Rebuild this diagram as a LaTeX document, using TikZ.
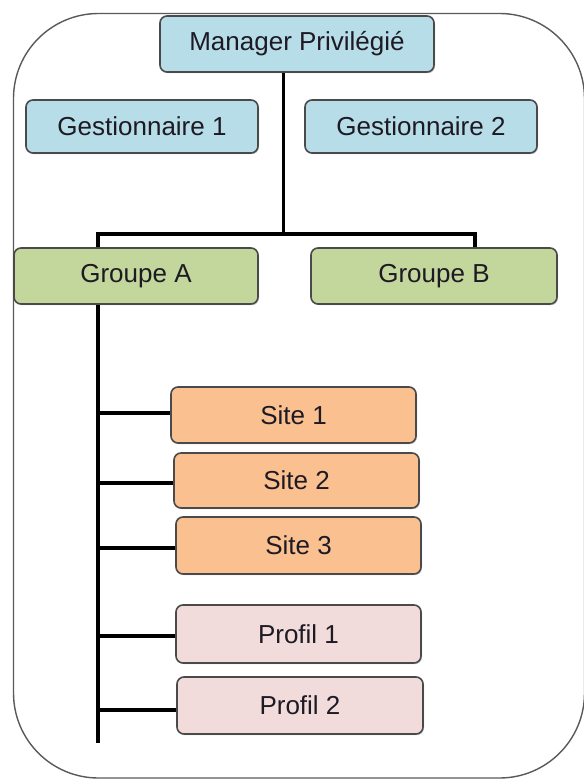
\documentclass[tikz,border=0pt]{standalone}
\usepackage{fontspec}
\setmainfont{Liberation Sans}
\usetikzlibrary{shadows}
\definecolor{cblue}{HTML}{B7DDE8}
\definecolor{cgreen}{HTML}{C3D69B}
\definecolor{corange}{HTML}{FAC090}
\definecolor{cpink}{HTML}{F2DCDB}
\definecolor{cborder}{HTML}{4A4A4A}
\definecolor{ctext}{HTML}{1E1A24}
\begin{document}
\begin{tikzpicture}[x=1pt,y=-1pt,
  box/.style={draw=cborder, line width=1.6pt, rounded corners=7pt, inner sep=0pt,
    text=ctext, font=\fontsize{26}{30}\selectfont,
    drop shadow={shadow xshift=1pt, shadow yshift=-1.2pt, opacity=0.35, fill=black!60}},
  bw/.style 2 args={box, minimum width=#1pt, minimum height=#2pt},
  conn/.style={line width=3.2pt, black},
  frame/.style={draw=black!65, line width=1.4pt, rounded corners=85pt}]
\useasboundingbox (0,0) rectangle (584,780);
\draw[frame] (13.5,13.5) rectangle (584.5,778);

\node[bw={274}{56}, fill=cblue]  (mgr) at (297,44)    {Manager Privilégié};
\node[bw={232}{53}, fill=cblue]  (g1)  at (142,126.5) {Gestionnaire 1};
\node[bw={232}{53}, fill=cblue]  (g2)  at (421,126.5) {Gestionnaire 2};
\node[bw={244}{56}, fill=cgreen] (gA)  at (136,276)   {Groupe A};
\node[bw={246}{56}, fill=cgreen] (gB)  at (434,276)   {Groupe B};
\node[bw={245}{56}, fill=corange] (s1) at (293.5,415) {Site 1};
\node[bw={245}{55}, fill=corange] (s2) at (296.5,480.5) {Site 2};
\node[bw={245}{57}, fill=corange] (s3) at (298.5,545.5) {Site 3};
\node[bw={245}{58}, fill=cpink]  (p1)  at (298.5,634) {Profil 1};
\node[bw={246}{57}, fill=cpink]  (p2)  at (300,705.5) {Profil 2};

\coordinate (j)  at (283.5,234);
\coordinate (jA) at (98,234);
\coordinate (jB) at (475,234);
\coordinate (sp) at (98,304);
\coordinate (spEnd) at (98,743);
\coordinate (b1) at (98,413);
\coordinate (b2) at (98,483);
\coordinate (b3) at (98,548);
\coordinate (b4) at (98,636);
\coordinate (b5) at (98,710);

\draw[conn] (mgr.south -| j) -- (j);
\draw[conn, line join=miter] (jA |- gA.north) -- (jA) -- (jB) -- (jB |- gB.north);
\draw[conn] (sp |- gA.south) -- (spEnd);
\draw[conn] (b1) -- (b1 -| s1.west);
\draw[conn] (b2) -- (b2 -| s2.west);
\draw[conn] (b3) -- (b3 -| s3.west);
\draw[conn] (b4) -- (b4 -| p1.west);
\draw[conn] (b5) -- (b5 -| p2.west);
\end{tikzpicture}
\end{document}
